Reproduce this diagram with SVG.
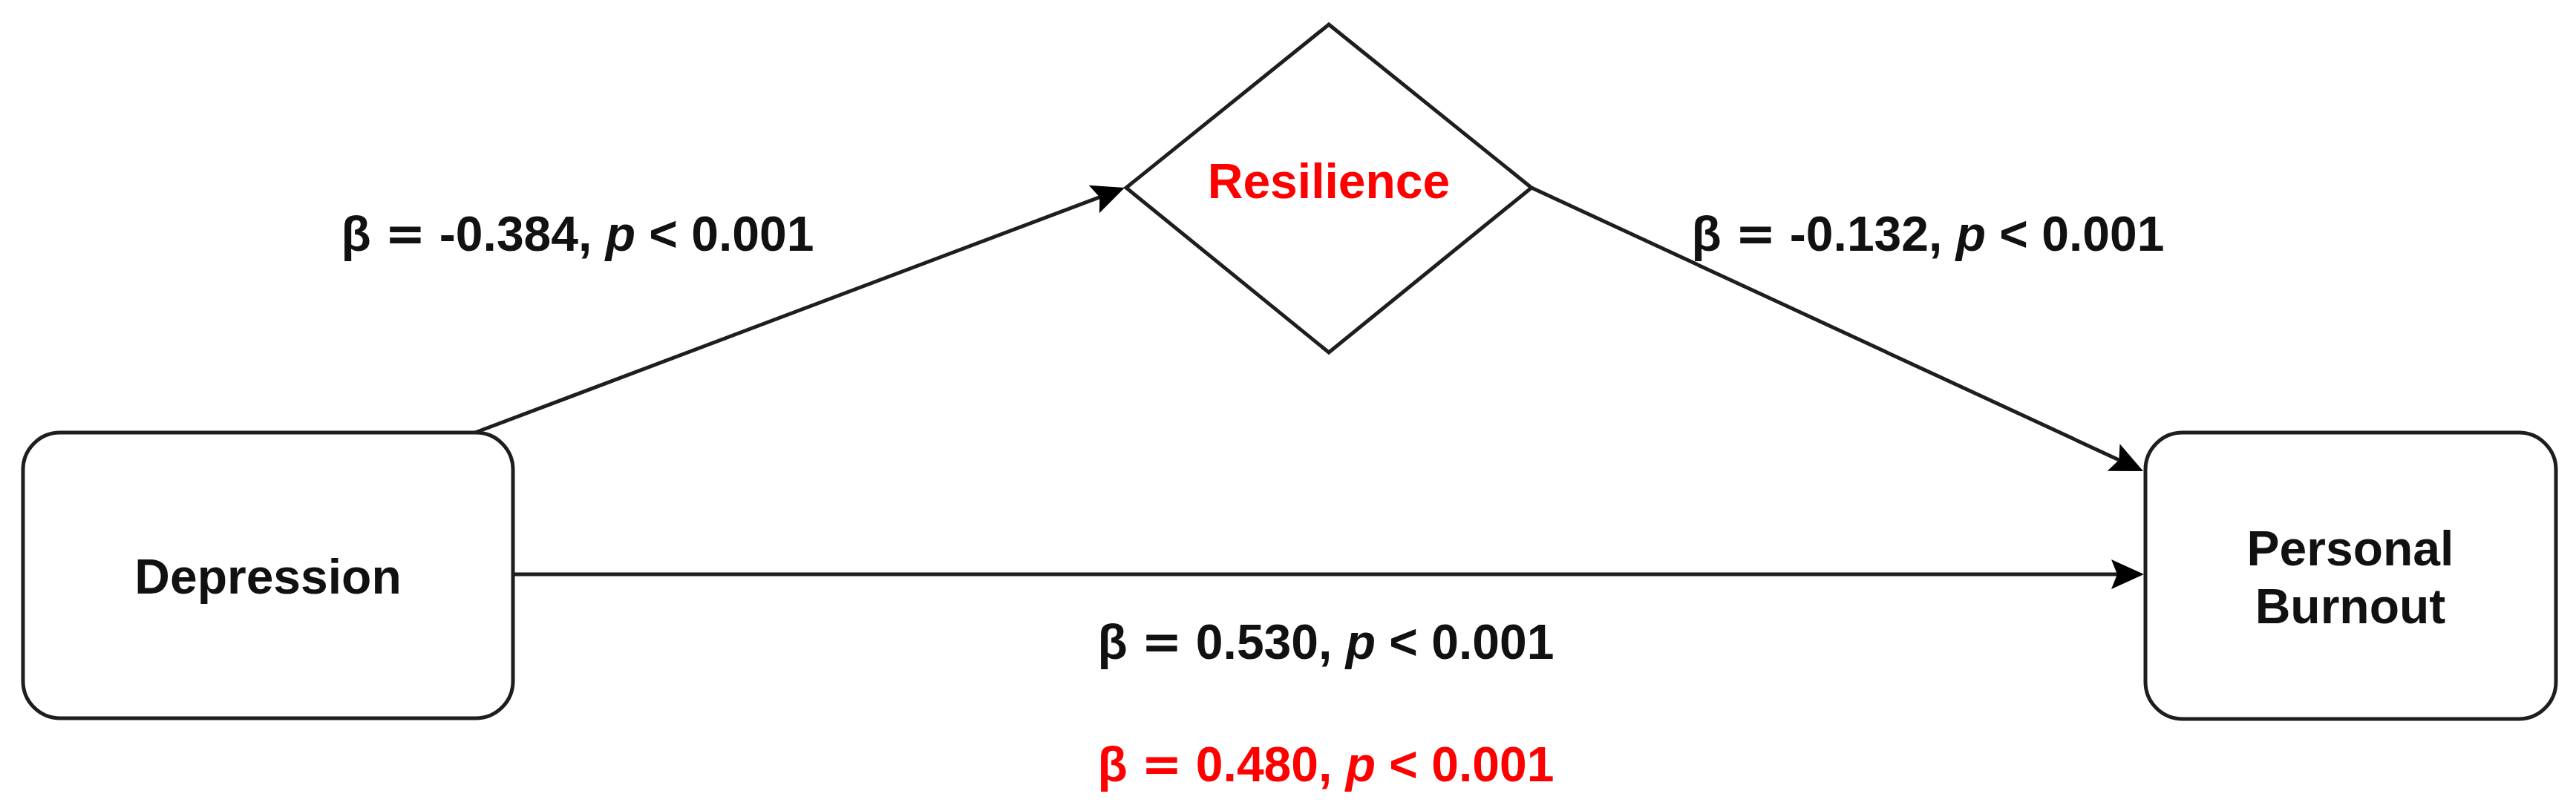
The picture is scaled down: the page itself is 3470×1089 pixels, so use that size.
<svg xmlns="http://www.w3.org/2000/svg" width="3470" height="1089" viewBox="0 0 3470 1089">
  <style>
    .shape { fill: #ffffff; stroke: #1e1e1e; stroke-width: 5; }
    .edge { fill: none; stroke: #1e1e1e; stroke-width: 5; }
    .lbl { font-family: "Liberation Sans", Arial, sans-serif; font-weight: bold; font-size: 66px; fill: #111111; text-anchor: middle; }
    .red { fill: #ff0000; }
    .it { font-style: italic; }
    .eq { font-family: "DejaVu Sans", sans-serif; }
  </style>
  <defs>
    <marker id="arr" markerUnits="userSpaceOnUse" markerWidth="50" markerHeight="46" viewBox="-47 -23 50 46" refX="-30" refY="0" orient="auto">
      <path d="M0,0 L-44,-20 L-36,0 L-44,20 Z" fill="#000000"/>
    </marker>
  </defs>
  <rect width="3470" height="1089" fill="#ffffff"/>

  <g id="connectors">
    <line class="edge" x1="640" y1="583" x2="1486.9" y2="263.6" marker-end="url(#arr)"/>
    <line class="edge" x1="2063" y1="253" x2="2859.8" y2="622.4" marker-end="url(#arr)"/>
    <line class="edge" x1="691" y1="774" x2="2858" y2="774" marker-end="url(#arr)"/>
  </g>

  <g id="depression">
    <rect class="shape" x="31" y="583" width="660" height="385" rx="50" ry="50"/>
    <text class="lbl" x="361" y="800">Depression</text>
  </g>

  <g id="resilience">
    <polygon class="shape" points="1790,33 2063,253 1790,475 1517,253"/>
    <text class="lbl red" x="1790" y="267">Resilience</text>
  </g>

  <g id="personal-burnout">
    <rect class="shape" x="2890" y="583" width="553" height="386" rx="50" ry="50"/>
    <text class="lbl" x="3166" y="762">Personal</text>
    <text class="lbl" x="3166" y="840">Burnout</text>
  </g>

  <g id="edge-labels">
    <text class="lbl" x="778" y="338">β <tspan class="eq">=</tspan> -0.384, <tspan class="it">p</tspan> &lt; 0.001</text>
    <text class="lbl" x="2597" y="338">β <tspan class="eq">=</tspan> -0.132, <tspan class="it">p</tspan> &lt; 0.001</text>
    <text class="lbl" x="1786" y="888">β <tspan class="eq">=</tspan> 0.530, <tspan class="it">p</tspan> &lt; 0.001</text>
    <text class="lbl red" x="1786" y="1053">β <tspan class="eq">=</tspan> 0.480, <tspan class="it">p</tspan> &lt; 0.001</text>
  </g>
</svg>
